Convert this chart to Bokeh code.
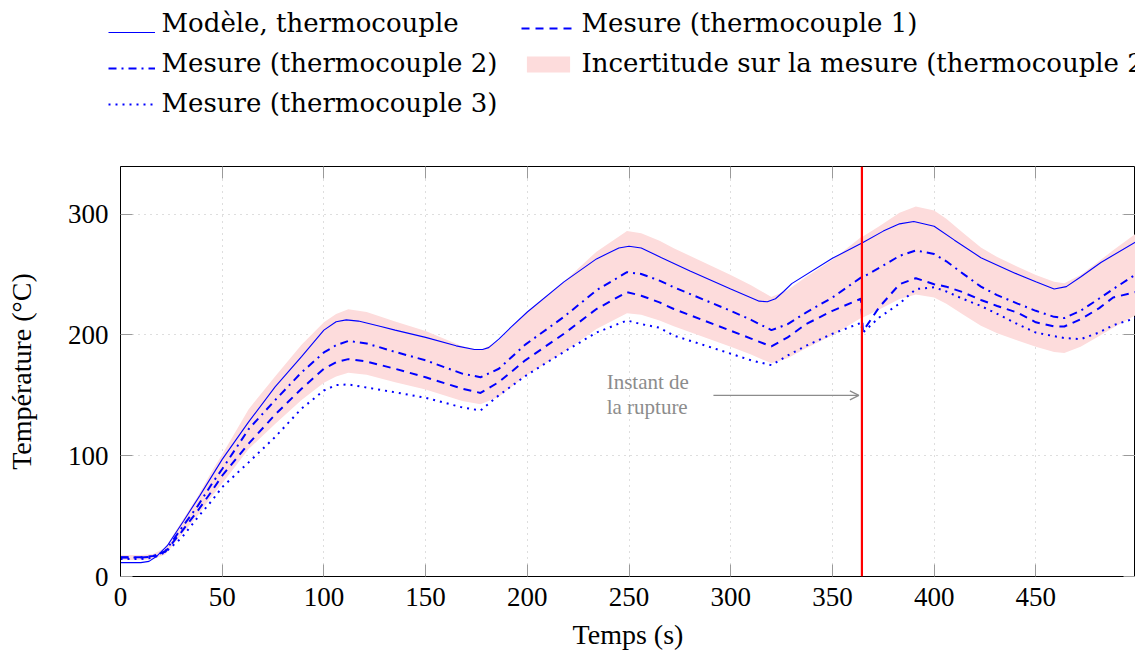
from bokeh.plotting import figure
from bokeh.layouts import column
from bokeh.models import (Range1d, FixedTicker, Legend, LegendItem, Span, Arrow,
                          OpenHead, Label, LinearAxis, CustomJSTickFormatter)
from bokeh.embed import file_html
from bokeh.resources import INLINE

FONT = "Liberation Serif"
LEG_FONT = "DejaVu Serif"

# ---------------- data ----------------
t_model = [0, 10, 14, 18, 23, 31, 39, 50, 63, 76, 89, 100, 106, 111, 117, 128, 135,
           150, 165, 174, 178, 181, 186, 192, 200, 218, 234, 245, 250, 256, 266, 280,
           300, 314, 318, 322, 326, 330, 350, 365, 375, 383, 390, 400, 410, 423, 440,
           450, 459, 465, 472, 482, 499]
model = [11.5, 11.5, 12.5, 17, 25.5, 46, 67, 97, 128, 157, 182, 204, 211, 212.5,
         211.5, 207, 204, 198, 191, 188, 188, 189.5, 196.5, 206.5, 219, 244, 263, 272,
         273.5, 272, 264, 253, 238, 228, 227.5, 230, 236, 242.5, 263.5, 276.5, 286,
         292, 294, 290, 278.5, 264, 251, 244, 238, 240, 248, 260, 277]

t_meas = [0, 10, 16, 22, 30, 38, 45, 50, 63, 76, 89, 100, 106, 112, 121, 135, 150,
          168, 177, 186, 199, 218, 234, 249, 256, 265, 272, 300, 310, 320, 328, 337,
          350, 364, 365, 373, 383, 391, 400, 406, 414, 423, 431, 441, 450, 459, 464,
          472, 481, 488, 499]
tc1 = [16, 16, 17, 20.5, 37, 54.5, 71, 83.5, 110, 134, 155.5, 172, 177.5, 180, 178,
       172, 165, 155.5, 152, 161, 179, 201, 221.5, 235.5, 232.5, 227, 221.5, 203.5,
       197, 190.5, 198, 209, 220, 230, 203, 223, 242, 247, 242, 240, 235.5, 229, 224,
       218.5, 210.5, 207, 207, 213, 222, 231, 235.5]
tc2 = [15.7, 15.7, 16.5, 21, 40, 58.5, 77, 89, 122, 146, 169, 185.5, 191.5, 195,
       193, 186, 179, 168, 165, 172, 192, 215, 237, 252, 250.5, 245, 239.5, 220,
       212.5, 204, 209, 218.5, 231, 247.5, 248, 255.5, 265.5, 270, 267, 261, 251, 240,
       233, 226, 220, 215, 214, 220, 230, 238, 250]
tc3 = [14.5, 14.5, 15.5, 20, 32, 49, 63, 74, 94.5, 115.5, 139, 154, 158.5, 159,
       156.5, 152.5, 148, 140, 137.5, 150, 166, 186, 202, 212, 209, 206, 199.5, 184.5,
       179, 175, 183, 191, 201, 210, 202, 214.5, 226, 238, 239.5, 236, 230, 224,
       217.5, 209, 202, 199, 197.5, 196.5, 202, 208, 214]
band_lo = [13.6, 13.6, 14.3, 18.2, 34.6, 50.6, 66.6, 77.0, 105.5, 126.3, 146.2, 160.5,
           165.6, 168.7, 167.0, 160.9, 154.8, 145.3, 142.7, 148.8, 166.1, 186.0,
           205.0, 218.0, 216.7, 211.9, 207.2, 190.3, 183.8, 176.5, 180.8, 189.0,
           199.8, 214.1, 214.5, 221.0, 229.7, 233.6, 231.0, 225.8, 217.1, 207.6,
           201.5, 195.5, 190.3, 186.0, 185.1, 190.3, 199.0, 205.9, 216.3]
band_hi = [17.8, 17.8, 18.7, 23.8, 45.4, 66.4, 87.4, 101.0, 138.5, 165.7, 191.8,
           210.5, 217.4, 221.3, 219.1, 211.1, 203.2, 190.7, 187.3, 195.2, 217.9,
           244.0, 269.0, 286.0, 284.3, 278.1, 271.8, 249.7, 241.2, 231.5, 237.2,
           248.0, 262.2, 280.9, 281.5, 290.0, 301.3, 306.4, 303.0, 296.2, 284.9,
           272.4, 264.5, 256.5, 249.7, 244.0, 242.9, 249.7, 261.0, 270.1, 283.8]

rupture_t = 364.5
x_ticks = [0, 50, 100, 150, 200, 250, 300, 350, 400, 450]
y_ticks = [0, 100, 200, 300]

labels = ["Modèle, thermocouple", "Mesure (thermocouple 1)",
          "Mesure (thermocouple 2)", "Incertitude sur la mesure (thermocouple 2)",
          "Mesure (thermocouple 3)"]

BLUE = "#0000ff"
BAND = "#fddcdc"
styles = {
    "model": dict(line_color=BLUE, line_width=1.1),
    "tc1": dict(line_color=BLUE, line_width=2, line_dash="8 6"),
    "tc2": dict(line_color=BLUE, line_width=2, line_dash="8 5 2 5"),
    "tc3": dict(line_color=BLUE, line_width=2, line_dash="2 5"),
}

# ---------------- main figure ----------------
p = figure(frame_width=1015, frame_height=410,
           x_range=Range1d(0, 499), y_range=Range1d(0, 339.5),
           output_backend="svg", toolbar_location=None,
           min_border_left=120, min_border_top=36, min_border_right=0,
           min_border_bottom=75, background_fill_color="white",
           border_fill_color="white")

p.outline_line_color = "black"
p.outline_line_width = 1

for ax, ticks in ((p.xaxis[0], x_ticks), (p.yaxis[0], y_ticks)):
    ax.ticker = FixedTicker(ticks=ticks)
    ax.minor_tick_line_color = None
    ax.major_tick_in = 12
    ax.major_tick_out = 0
    ax.major_tick_line_color = "#9a9a9a"
    ax.axis_line_color = "black"
    ax.major_label_text_font = FONT
    ax.major_label_text_font_size = "27px"
    ax.major_label_text_color = "black"
    ax.axis_label_text_font = FONT
    ax.axis_label_text_font_size = "28px"
    ax.axis_label_text_font_style = "normal"
    ax.axis_label_text_color = "black"

p.xaxis.axis_label = "Temps (s)"
p.yaxis.axis_label = "Température (°C)"
p.xaxis.major_label_standoff = 11
p.xaxis.axis_label_standoff = 10
p.yaxis.major_label_standoff = 12
p.yaxis.axis_label_standoff = 28

# mirrored ticks on top and right
for side, ticks in (("above", x_ticks), ("right", y_ticks)):
    ax = LinearAxis(ticker=FixedTicker(ticks=ticks),
                    formatter=CustomJSTickFormatter(code="return ''"),
                    major_tick_in=12, major_tick_out=0,
                    major_tick_line_color="#9a9a9a", minor_tick_line_color=None,
                    axis_line_color=None, major_label_standoff=0)
    p.add_layout(ax, side)

for g in (p.xgrid[0], p.ygrid[0]):
    g.grid_line_color = "#bdbdbd"
    g.grid_line_dash = "1 5"
    g.grid_line_width = 1
p.xgrid.ticker = FixedTicker(ticks=x_ticks)
p.ygrid.ticker = FixedTicker(ticks=y_ticks)

p.varea(x=t_meas, y1=band_lo, y2=band_hi, fill_color=BAND)
p.line(t_model, model, **styles["model"])
p.line(t_meas, tc1, **styles["tc1"])
p.line(t_meas, tc2, **styles["tc2"])
p.line(t_meas, tc3, **styles["tc3"])

p.add_layout(Span(location=rupture_t, dimension="height", line_color="red",
                  line_width=2.2))

p.add_layout(Arrow(end=OpenHead(size=9, line_color="#8c8c8c", line_width=1.2),
                   x_start=291.5, y_start=150, x_end=363, y_end=150,
                   line_color="#8c8c8c", line_width=1.2))
for txt, yy in (("Instant de", 161), ("la rupture", 140.5)):
    p.add_layout(Label(x=239, y=yy, text=txt, text_font=FONT,
                       text_font_size="21px", text_color="#8c8c8c",
                       text_baseline="middle", text_align="left"))

# ---------------- legend strip (separate figure above) ----------------
# same series, drawn outside this strip's visible range: only the legend keys show
LG_H = 130
lg = figure(width=1135, height=LG_H, x_range=Range1d(0, 1), y_range=Range1d(0, 1),
            x_axis_type=None, y_axis_type=None, output_backend="svg",
            toolbar_location=None, min_border=0, outline_line_color=None,
            background_fill_color="white", border_fill_color="white")
k_model = lg.line(t_model, model, **styles["model"])
k_tc1 = lg.line(t_meas, tc1, **styles["tc1"])
k_tc2 = lg.line(t_meas, tc2, **styles["tc2"])
k_tc3 = lg.line(t_meas, tc3, **styles["tc3"])
k_band = lg.varea(x=t_meas, y1=band_lo, y2=band_hi, fill_color=BAND)

x_off = 0
try:
    lg.frame_align = False
    p.frame_align = False
except AttributeError:
    x_off = 121

# legend keys (Bokeh legends); their texts are set as labels below
common = dict(orientation="vertical", border_line_color=None,
              background_fill_alpha=0, padding=0, margin=0, spacing=8,
              label_height=28, label_standoff=6, label_text_font=LEG_FONT,
              label_text_font_size="28px", label_text_color="black")
leg1 = Legend(items=[LegendItem(label=" ", renderers=[k_model]),
                     LegendItem(label=" ", renderers=[k_tc2]),
                     LegendItem(label=" ", renderers=[k_tc3])],
              location=(max(108 - x_off, 0), 12), glyph_width=47,
              glyph_height=28, **common)
leg2 = Legend(items=[LegendItem(label=" ", renderers=[k_tc1]),
                     LegendItem(label=" ", renderers=[k_band])],
              location=(521 - x_off, 52), glyph_width=54, glyph_height=20,
              **common)
lg.add_layout(leg1, "center")
lg.add_layout(leg2, "center")

legend_text = [(labels[0], 161, 22), (labels[2], 161, 62), (labels[4], 161, 102),
               (labels[1], 581, 22), (labels[3], 581, 62)]
for txt, sx, sy in legend_text:
    lg.add_layout(Label(x=sx - x_off, y=LG_H - sy, x_units="screen",
                        y_units="screen", text=txt, text_font=LEG_FONT,
                        text_font_size="26px", text_color="black",
                        text_baseline="middle", text_align="left"))

open("out.html", "w").write(file_html(column(lg, p, spacing=0), INLINE))
